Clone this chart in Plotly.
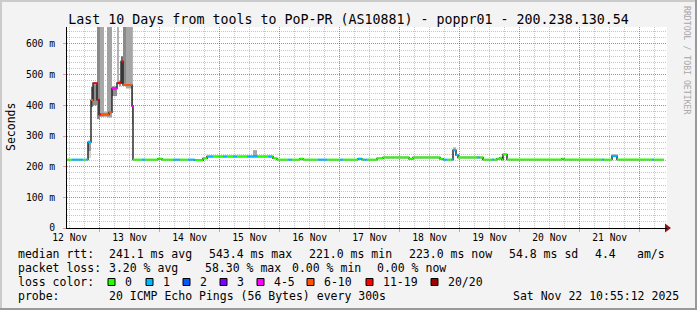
import pandas as pd
import plotly.graph_objects as go

# ---------------- data ----------------
START = pd.Timestamp("2025-11-12 10:55:12")
END = pd.Timestamp("2025-11-22 10:55:12")

# median rtt steps: start (hours after START), value (ms), loss bucket
seg_start_h = [0.0, 2.0, 6.4, 7.6, 8.4, 9.6, 10.4, 12.0, 12.8, 13.6,
               16.8, 18.0, 20.0, 21.6, 22.4, 26.0, 26.4, 30.0, 31.2, 36.4,
               38.0, 42.4, 45.2, 48.4, 51.2, 54.4, 56.0, 58.4, 62.4, 64.0,
               66.4, 68.0, 72.0, 76.4, 80.4, 82.0, 82.4, 84.0, 88.4, 90.0,
               93.2, 94.4, 100.4, 104.0, 109.2, 110.4, 116.4, 118.0, 118.4, 120.0,
               124.0, 126.4, 136.8, 138.4, 149.2, 150.4, 152.0, 153.6, 154.4, 155.6,
               156.4, 164.0, 165.2, 166.4, 170.0, 170.8, 172.0, 173.2, 174.0, 174.4,
               176.0, 198.0, 198.8, 214.0, 214.8, 218.0, 220.0, 234.0, 234.8]
seg_last_end_h = 238.8
median_ms = [223, 223, 223, 223, 280, 417, 472, 418, 370, 370,
             377, 455, 473, 543, 466, 398, 223, 223, 223, 226,
             223, 223, 223, 223, 221, 227, 233, 233, 233, 233,
             233, 233, 233, 233, 233, 233, 227, 223, 223, 223,
             226, 223, 223, 223, 223, 223, 226, 223, 223, 223,
             227, 230, 226, 230, 226, 223, 223, 223, 254, 238,
             230, 230, 230, 223, 223, 223, 226, 229, 223, 240,
             223, 226, 223, 223, 223, 235, 223, 223, 223]
loss_bucket = ["0", "1", "0", "1", "1", "6-10", "11-19", "11-19", "11-19", "6-10",
               "6-10", "4-5", "11-19", "11-19", "6-10", "4-5", "0", "1", "0", "0",
               "0", "1", "0", "1", "0", "0", "1", "0", "1", "0",
               "1", "0", "1", "0", "1", "0", "0", "0", "1", "0",
               "0", "0", "1", "0", "1", "0", "1", "0", "1", "0",
               "0", "0", "0", "0", "0", "1", "0", "1", "1", "1",
               "0", "1", "0", "0", "1", "0", "0", "0", "0", "0",
               "0", "0", "0", "1", "0", "1", "0", "1", "0"]

loss_labels = ["0", "1", "2", "3", "4-5", "6-10", "11-19", "20/20"]
loss_colors = ["#26ff00", "#00b8ff", "#0059ff", "#7e00ff", "#ff00ff", "#ff5500", "#ff0000", "#a10000"]

# smoke (ping spread) blocks
smoke_start_h = [8.4, 8.4, 9.6, 10.4, 12.0, 13.2, 14.8, 16.0, 18.0, 20.0, 20.8, 21.6, 22.4, 23.6, 26.0, 74.4, 154.4, 218.0]
smoke_end_h = [9.6, 9.6, 10.4, 12.0, 13.2, 14.8, 16.0, 18.0, 20.0, 20.8, 21.6, 22.4, 23.6, 26.0, 26.4, 76.0, 155.6, 220.0]
smoke_lo = [250, 228, 395, 400, 355, 362, 362, 360, 430, 468, 462, 470, 470, 455, 340, 233, 250, 232]
smoke_hi = [285, 250, 460, 468, 900, 900, 380, 900, 462, 900, 480, 560, 900, 900, 900, 254, 263, 241]
smoke_gray = ["#9c9c9c", "#d2d2d2", "#707070", "#8e8e8e", "#8a8a8a", "#a8a8a8", "#b8b8b8", "#a2a2a2", "#8e8e8e",
              "#b2b2b2", "#9a9a9a", "#6e6e6e", "#8a8a8a", "#a6a6a6", "#b4b4b4", "#a8a8a8", "#b0b0b0", "#c0c0c0"]

day_labels = ["12 Nov", "13 Nov", "14 Nov", "15 Nov", "16 Nov", "17 Nov", "18 Nov", "19 Nov", "20 Nov", "21 Nov"]
y_tick_vals = [0, 100, 200, 300, 400, 500, 600]
y_tick_text = ["0", "100 m", "200 m", "300 m", "400 m", "500 m", "600 m"]
Y_MAX = 655.4

title_text = "Last 10 Days from tools to PoP-PR (AS10881) - poppr01 - 200.238.130.54"
row_median = ["median rtt:", "241.1 ms avg", "543.4 ms max", "221.0 ms min", "223.0 ms now", "54.8 ms sd", "4.4", "am/s"]
row_loss = ["packet loss:", "3.20 % avg", "58.30 % max", "0.00 % min", "0.00 % now"]
row_probe = ["probe:", "20 ICMP Echo Pings (56 Bytes) every 300s"]
stamp_text = "Sat Nov 22 10:55:12 2025"

# ---------------- layout constants ----------------
W, H = 697, 310
ML, MR, MT, MB = 67, 30, 27, 82
PW, PH = W - ML - MR, H - MT - MB
MONO = "DejaVu Sans Mono"
row_median_x = [16, 107, 207, 307, 407, 507, 593, 635]
row_loss_x = [16, 107, 203, 290, 375]
row_probe_x = [16, 107]
swatch_x = [108, 146, 183, 220, 257, 307, 366, 431]
row_y = [254, 268, 282, 296]


def to_time(h):
    return START + pd.Timedelta(hours=h)


def px_x(px):
    return (px - ML) / PW


def px_y(py):
    return (H - MB - py) / PH


fig = go.Figure()

# dummy trace for grid axis
fig.add_trace(go.Scatter(x=[START], y=[None], xaxis="x2", mode="markers", showlegend=False, hoverinfo="skip"))

# smoke
fig.add_trace(go.Bar(
    x=[to_time((s + e) / 2) for s, e in zip(smoke_start_h, smoke_end_h)],
    y=[hi - lo for lo, hi in zip(smoke_lo, smoke_hi)],
    base=smoke_lo,
    width=[(e - s) * 3600 * 1000 for s, e in zip(smoke_start_h, smoke_end_h)],
    marker=dict(color=smoke_gray, line=dict(width=0)),
    showlegend=False, hoverinfo="skip",
))

# black step line
fig.add_trace(go.Scatter(
    x=[to_time(h) for h in seg_start_h] + [to_time(seg_last_end_h)],
    y=median_ms + [median_ms[-1]],
    mode="lines", line=dict(color="#202020", width=1.4, shape="hv"),
    showlegend=False, hoverinfo="skip",
))

# coloured median segments by loss
seg_end_h = seg_start_h[1:] + [seg_last_end_h]
for lab, col in zip(loss_labels, loss_colors):
    xs, ys = [], []
    for s, e, v, b in zip(seg_start_h, seg_end_h, median_ms, loss_bucket):
        if b == lab:
            xs += [to_time(s), to_time(e), None]
            ys += [v, v, None]
    if xs:
        fig.add_trace(go.Scatter(x=xs, y=ys, mode="lines", line=dict(color=col, width=2),
                                 showlegend=False, hoverinfo="skip"))

# axis arrows
fig.add_trace(go.Scatter(x=[END], y=[0], mode="markers", cliponaxis=False,
                         marker=dict(symbol="triangle-right", size=8, color="#8e1414"),
                         showlegend=False, hoverinfo="skip"))
fig.add_trace(go.Scatter(x=[START], y=[Y_MAX * 1.012], mode="markers", cliponaxis=False,
                         marker=dict(symbol="triangle-up", size=7, color="#8e1414"),
                         showlegend=False, hoverinfo="skip"))

MAJOR = "rgba(240,0,0,0.38)"
MINOR = "rgba(143,143,143,0.5)"
noon = pd.date_range("2025-11-12 12:00", periods=len(day_labels), freq="D")
midnight = pd.date_range("2025-11-13 00:00", periods=10, freq="D")

fig.update_layout(
    width=W, height=H, margin=dict(l=ML, r=MR, t=MT, b=MB, pad=0),
    template="none",
    paper_bgcolor="#f3f3f3", plot_bgcolor="#ffffff",
    barmode="overlay",
    showlegend=False,
    font=dict(family=MONO, color="#000000", size=11.5),
    title=dict(text=title_text, x=0.5, xref="container", xanchor="center",
               y=1 - 19 / H, yref="container", yanchor="middle",
               font=dict(family=MONO, size=13.3, color="#000000")),
    xaxis=dict(type="date", range=[START, END], tickmode="array", tickvals=list(noon), ticktext=day_labels,
               showgrid=False, zeroline=False, showline=True, linecolor="#000000", linewidth=1,
               ticks="", tickfont=dict(family=MONO, size=9.7, color="#000000"), automargin=False,
               fixedrange=True),
    xaxis2=dict(type="date", range=[START, END], overlaying="x", anchor="y", side="bottom",
                tickmode="array", tickvals=list(midnight), showticklabels=False,
                showgrid=True, gridcolor=MAJOR, griddash="1px,1px", gridwidth=1,
                ticks="outside", ticklen=3, tickcolor=MAJOR, showline=False, zeroline=False,
                minor=dict(tick0="2025-11-12 00:00", dtick=6 * 3600 * 1000, showgrid=True,
                           gridcolor=MINOR, griddash="1px,1px", gridwidth=1, ticks=""),
                automargin=False),
    yaxis=dict(range=[0, Y_MAX], tickmode="array", tickvals=y_tick_vals, ticktext=y_tick_text,
               showgrid=True, gridcolor=MAJOR, griddash="1px,1px", gridwidth=1,
               minor=dict(dtick=20, tick0=0, showgrid=True, gridcolor=MINOR, griddash="1px,1px", gridwidth=1),
               zeroline=False, showline=True, linecolor="#000000", linewidth=1,
               ticks="outside", ticklen=3, tickcolor=MAJOR, ticklabelstandoff=6,
               tickfont=dict(family=MONO, size=9.7, color="#000000"), automargin=False),
)

ann = []
# y-axis unit title
ann.append(dict(text="Seconds", xref="paper", yref="paper", x=px_x(11), y=px_y(127), textangle=-90,
                showarrow=False, xanchor="center", yanchor="middle", font=dict(family=MONO, size=11.5)))
# watermark
ann.append(dict(text="RRDTOOL / TOBI OETIKER", xref="paper", yref="paper", x=px_x(687), y=px_y(60), textangle=90,
                showarrow=False, xanchor="center", yanchor="middle", font=dict(family=MONO, size=8.2, color="#a8a8a8")))
# statistics rows
for row, xs, py in [(row_median, row_median_x, row_y[0]), (row_loss, row_loss_x, row_y[1]),
                    (row_probe, row_probe_x, row_y[3])]:
    for t, px in zip(row, xs):
        ann.append(dict(text=t, xref="paper", yref="paper", x=px_x(px), y=px_y(py), showarrow=False,
                        xanchor="left", yanchor="middle", font=dict(family=MONO, size=11.5)))
ann.append(dict(text=stamp_text, xref="paper", yref="paper", x=px_x(681), y=px_y(row_y[3]), showarrow=False,
                xanchor="right", yanchor="middle", font=dict(family=MONO, size=11.5)))
ann.append(dict(text="loss color:", xref="paper", yref="paper", x=px_x(16), y=px_y(row_y[2]), showarrow=False,
                xanchor="left", yanchor="middle", font=dict(family=MONO, size=11.5)))
shapes = []
for lab, col, sx in zip(loss_labels, loss_colors, swatch_x):
    ann.append(dict(text=lab, xref="paper", yref="paper", x=px_x(sx + 15), y=px_y(row_y[2]), showarrow=False,
                    xanchor="left", yanchor="middle", font=dict(family=MONO, size=11.5)))
    shapes.append(dict(type="rect", xref="paper", yref="paper", x0=px_x(sx), x1=px_x(sx + 7),
                       y0=px_y(row_y[2] - 3.5), y1=px_y(row_y[2] + 3.5),
                       fillcolor=col, line=dict(color="#000000", width=1)))

# image frame (light top/left, dark bottom/right)
shapes += [
    dict(type="rect", xref="paper", yref="paper", x0=px_x(0), x1=px_x(W), y0=px_y(2), y1=px_y(0),
         fillcolor="#cbcbcb", line=dict(width=0), layer="below"),
    dict(type="rect", xref="paper", yref="paper", x0=px_x(0), x1=px_x(2), y0=px_y(H), y1=px_y(0),
         fillcolor="#cbcbcb", line=dict(width=0), layer="below"),
    dict(type="rect", xref="paper", yref="paper", x0=px_x(0), x1=px_x(W), y0=px_y(H), y1=px_y(H - 2),
         fillcolor="#999999", line=dict(width=0)),
    dict(type="rect", xref="paper", yref="paper", x0=px_x(W - 2), x1=px_x(W), y0=px_y(H), y1=px_y(0),
         fillcolor="#999999", line=dict(width=0)),
]
fig.update_layout(annotations=ann, shapes=shapes)

fig.write_html("out.html", config={"displayModeBar": False})
